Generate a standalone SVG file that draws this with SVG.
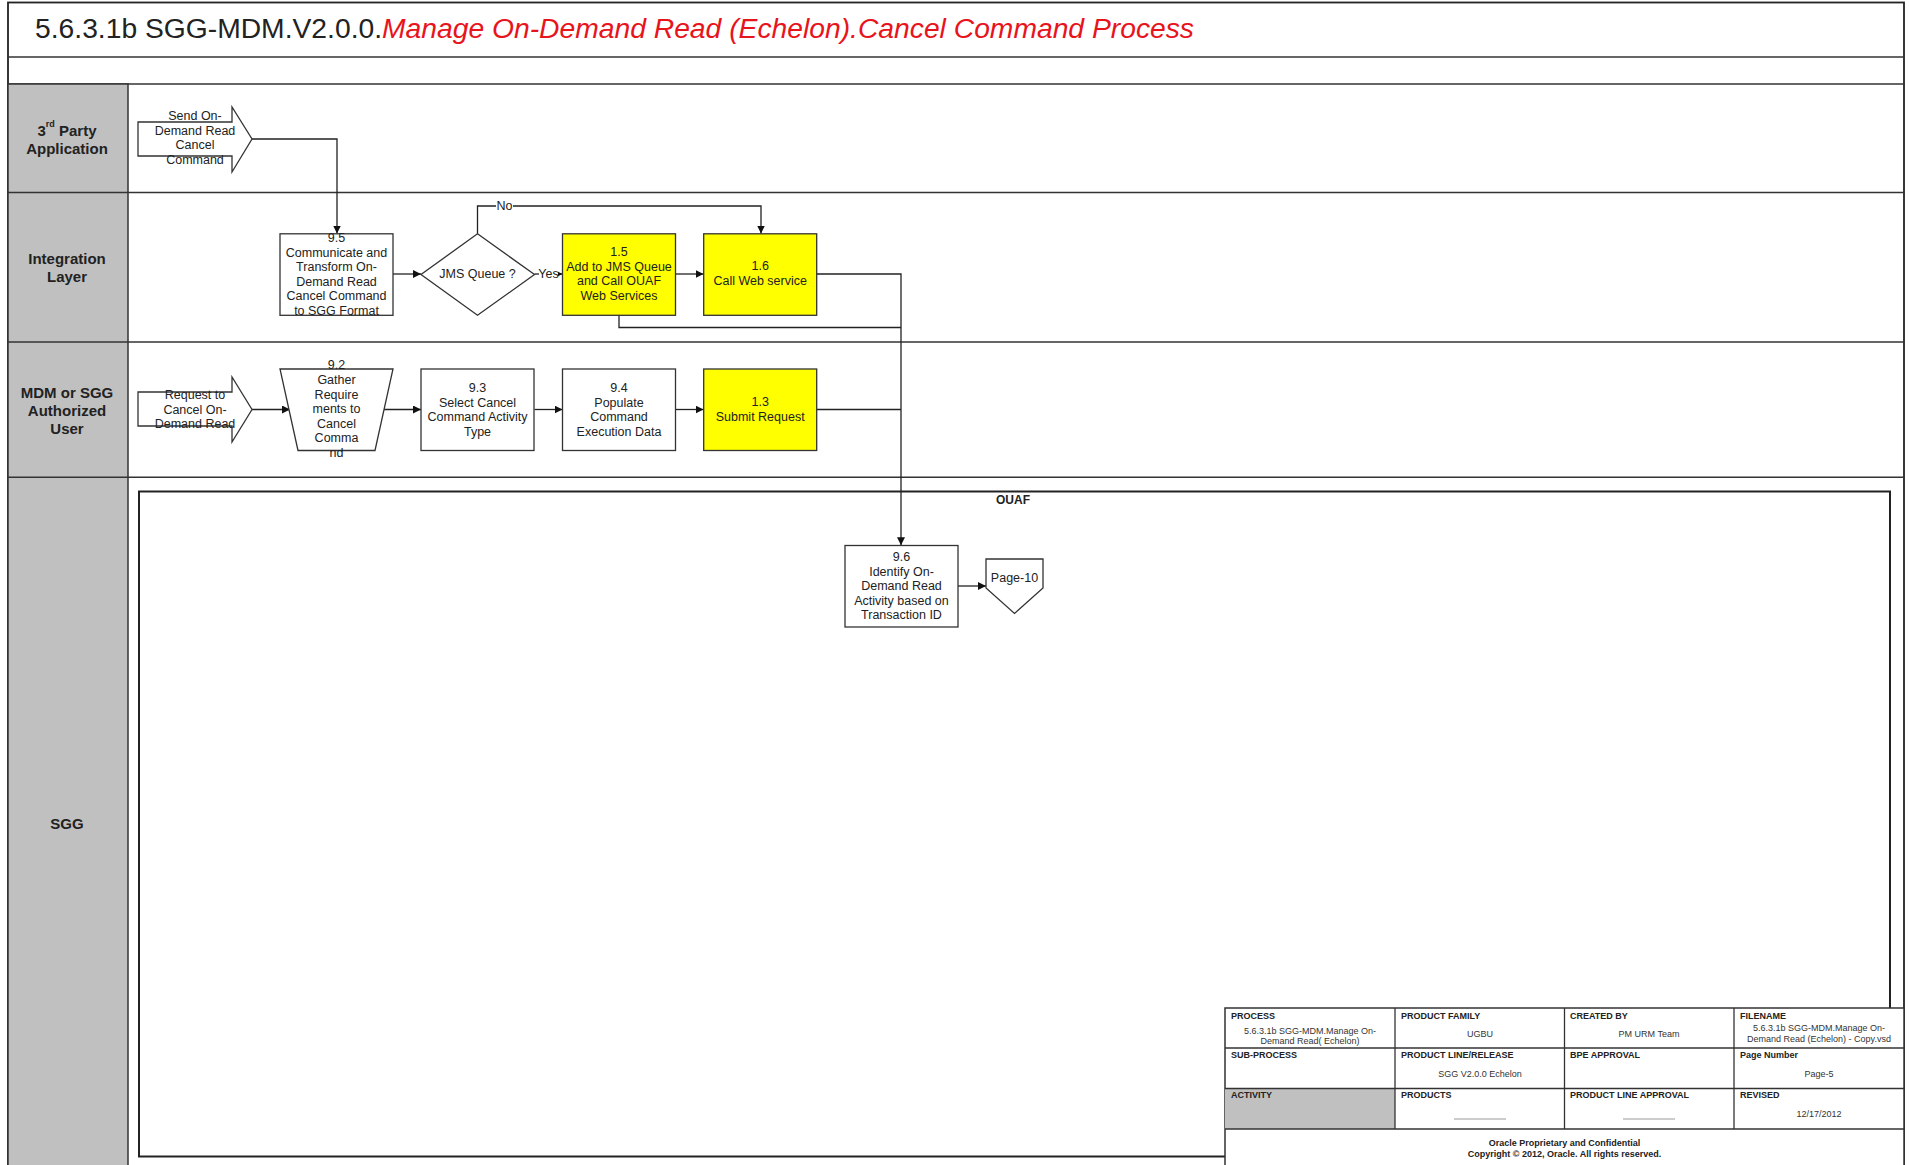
<svg xmlns="http://www.w3.org/2000/svg" width="1909" height="1165" viewBox="0 0 1909 1165">
<style>
.t{font-family:"Liberation Sans",Arial,sans-serif;font-size:12.5px;fill:#222;text-anchor:middle;dominant-baseline:central}
.lane{font-family:"Liberation Sans",Arial,sans-serif;font-size:15px;font-weight:bold;fill:#222;text-anchor:middle;dominant-baseline:central}
.box{fill:#fff;stroke:#333;stroke-width:1.3}
.yel{fill:#ffff00;stroke:#333;stroke-width:1.3}
.ln{fill:none;stroke:#222;stroke-width:1.3}
.arr{fill:none;stroke:#222;stroke-width:1.3;marker-end:url(#ah)}
.sep{stroke:#333;stroke-width:1.5}
.fh{font-family:"Liberation Sans",Arial,sans-serif;font-size:9px;font-weight:bold;fill:#222;dominant-baseline:central}
.fv{font-family:"Liberation Sans",Arial,sans-serif;font-size:9px;fill:#333;text-anchor:middle;dominant-baseline:central}
.fb{font-family:"Liberation Sans",Arial,sans-serif;font-size:9px;font-weight:bold;fill:#222;text-anchor:middle;dominant-baseline:central}
</style>
<defs>
<marker id="ah" viewBox="0 0 10 10" refX="10" refY="5" markerWidth="8" markerHeight="8" markerUnits="userSpaceOnUse" orient="auto">
<path d="M0,0 L10,5 L0,10 z" fill="#111"/>
</marker>
</defs>
<rect width="1909" height="1165" fill="#fff"/>
<g id="frame">
<rect x="8" y="2.5" width="1896" height="1170" fill="none" stroke="#222" stroke-width="1.8"/>
<line x1="8" y1="57" x2="1904" y2="57" class="sep"/>
<line x1="8" y1="84" x2="1904" y2="84" class="sep"/>
<rect x="8" y="84" width="120" height="1090" fill="#c0c0c0" stroke="#333" stroke-width="1.5"/>
<line x1="8" y1="192.5" x2="1904" y2="192.5" class="sep"/>
<line x1="8" y1="342" x2="1904" y2="342" class="sep"/>
<line x1="8" y1="477.3" x2="1904" y2="477.3" class="sep"/>
<text x="35" y="38" font-family="'Liberation Sans',Arial,sans-serif" font-size="27" fill="#222" textLength="1159" lengthAdjust="spacingAndGlyphs">5.6.3.1b SGG-MDM.V2.0.0.<tspan fill="#e8141c" font-style="italic">Manage On-Demand Read (Echelon).Cancel Command Process</tspan></text>
</g>
<g id="lanes">
<text class="lane" x="67" y="130">3<tspan font-size="9" dy="-6">rd</tspan><tspan dy="6"> Party</tspan></text>
<text class="lane" x="67" y="148">Application</text>
<text class="lane" x="67" y="258">Integration</text>
<text class="lane" x="67" y="276">Layer</text>
<text class="lane" x="67" y="392">MDM or SGG</text>
<text class="lane" x="67" y="410">Authorized</text>
<text class="lane" x="67" y="428">User</text>
<text class="lane" x="67" y="823">SGG</text>
</g>
<g id="ouaf">
<rect x="139" y="491.5" width="1751" height="665" fill="none" stroke="#222" stroke-width="2"/>
<text x="1013" y="500" font-family="'Liberation Sans',Arial,sans-serif" font-size="12" font-weight="bold" fill="#222" text-anchor="middle" dominant-baseline="central">OUAF</text>
</g>
<g id="connectors">
<polyline class="arr" points="252,139 337,139 337,233.5"/>
<line class="arr" x1="393" y1="274" x2="421" y2="274"/>
<polyline class="arr" points="477.5,233.8 477.5,206 761,206 761,233.5"/>
<line class="arr" x1="534.5" y1="274" x2="562.5" y2="274"/>
<line class="arr" x1="675.5" y1="274" x2="703.5" y2="274"/>
<polyline class="arr" points="817,274 901,274 901,545.3"/>
<polyline class="ln" points="619,315.3 619,327.5 901,327.5"/>
<line class="arr" x1="252" y1="409.5" x2="290" y2="409.5"/>
<line class="arr" x1="384" y1="409.5" x2="421" y2="409.5"/>
<line class="arr" x1="534.5" y1="409.5" x2="562.5" y2="409.5"/>
<line class="arr" x1="675.5" y1="409.5" x2="703.5" y2="409.5"/>
<line class="ln" x1="817" y1="409.5" x2="901" y2="409.5"/>
<line class="arr" x1="958" y1="586" x2="986" y2="586"/>
<rect x="496" y="200" width="17" height="12" fill="#fff"/>
<text class="t" x="504.5" y="206" font-size="11.5">No</text>
<rect x="539" y="268" width="19" height="12" fill="#fff"/>
<text class="t" x="548.5" y="274" font-size="11.5">Yes</text>
</g>
<g id="send">
<polygon class="box" points="138,122 232,122 232,107 252,139 232,172 232,156 138,156"/>
<text class="t" x="195" y="116">Send On-</text>
<text class="t" x="195" y="130.5">Demand Read</text>
<text class="t" x="195" y="145">Cancel</text>
<text class="t" x="195" y="159.5">Command</text>
</g>
<g id="n95">
<rect class="box" x="280" y="233.8" width="113" height="81.5"/>
<text class="t" x="336.5" y="238">9.5</text>
<text class="t" x="336.5" y="252.5">Communicate and</text>
<text class="t" x="336.5" y="267">Transform On-</text>
<text class="t" x="336.5" y="281.5">Demand Read</text>
<text class="t" x="336.5" y="296">Cancel Command</text>
<text class="t" x="336.5" y="310.5">to SGG Format</text>
</g>
<g id="jms">
<polygon class="box" points="477.5,233.8 534.5,274.5 477.5,315.3 421,274.5"/>
<text class="t" x="477.5" y="274">JMS Queue ?</text>
</g>
<g id="n15">
<rect class="yel" x="562.5" y="233.8" width="113" height="81.5"/>
<text class="t" x="619" y="252">1.5</text>
<text class="t" x="619" y="266.5">Add to JMS Queue</text>
<text class="t" x="619" y="281">and Call OUAF</text>
<text class="t" x="619" y="295.5">Web Services</text>
</g>
<g id="n16">
<rect class="yel" x="703.7" y="233.8" width="113" height="81.5"/>
<text class="t" x="760.2" y="266">1.6</text>
<text class="t" x="760.2" y="280.5">Call Web service</text>
</g>
<g id="request">
<polygon class="box" points="138,392 232,392 232,377 252,409.5 232,442 232,426 138,426"/>
<text class="t" x="195" y="395">Request to</text>
<text class="t" x="195" y="409.5">Cancel On-</text>
<text class="t" x="195" y="424">Demand Read</text>
</g>
<g id="n92">
<polygon class="box" points="280,369 393,369 375,450.5 298,450.5"/>
<text class="t" x="336.5" y="365">9.2</text>
<text class="t" x="336.5" y="380">Gather</text>
<text class="t" x="336.5" y="394.5">Require</text>
<text class="t" x="336.5" y="409">ments to</text>
<text class="t" x="336.5" y="423.5">Cancel</text>
<text class="t" x="336.5" y="438">Comma</text>
<text class="t" x="336.5" y="452.5">nd</text>
</g>
<g id="n93">
<rect class="box" x="421" y="369" width="113" height="81.5"/>
<text class="t" x="477.5" y="388">9.3</text>
<text class="t" x="477.5" y="402.5">Select Cancel</text>
<text class="t" x="477.5" y="417">Command Activity</text>
<text class="t" x="477.5" y="431.5">Type</text>
</g>
<g id="n94">
<rect class="box" x="562.5" y="369" width="113" height="81.5"/>
<text class="t" x="619" y="388">9.4</text>
<text class="t" x="619" y="402.5">Populate</text>
<text class="t" x="619" y="417">Command</text>
<text class="t" x="619" y="431.5">Execution Data</text>
</g>
<g id="n13">
<rect class="yel" x="703.7" y="369" width="113" height="81.5"/>
<text class="t" x="760.2" y="402">1.3</text>
<text class="t" x="760.2" y="416.5">Submit Request</text>
</g>
<g id="n96">
<rect class="box" x="845" y="545.5" width="113" height="81.5"/>
<text class="t" x="901.5" y="557">9.6</text>
<text class="t" x="901.5" y="571.5">Identify On-</text>
<text class="t" x="901.5" y="586">Demand Read</text>
<text class="t" x="901.5" y="600.5">Activity based on</text>
<text class="t" x="901.5" y="615">Transaction ID</text>
</g>
<g id="page10">
<polygon class="box" points="986,559 1043,559 1043,588 1014.5,613.5 986,588"/>
<text class="t" x="1014.5" y="578">Page-10</text>
</g>
<g id="footer">
<rect x="1225" y="1008" width="679" height="160" fill="#fff" stroke="#333" stroke-width="1.5"/>
<rect x="1225" y="1088.5" width="170" height="40.5" fill="#c0c0c0"/>
<g stroke="#333" stroke-width="1.3">
<line x1="1225" y1="1048" x2="1904" y2="1048"/>
<line x1="1225" y1="1088.5" x2="1904" y2="1088.5"/>
<line x1="1225" y1="1129" x2="1904" y2="1129"/>
<line x1="1395" y1="1008" x2="1395" y2="1129"/>
<line x1="1564.5" y1="1008" x2="1564.5" y2="1129"/>
<line x1="1734" y1="1008" x2="1734" y2="1129"/>
</g>
<text class="fh" x="1231" y="1016">PROCESS</text>
<text class="fh" x="1401" y="1016">PRODUCT FAMILY</text>
<text class="fh" x="1570" y="1016">CREATED BY</text>
<text class="fh" x="1740" y="1016">FILENAME</text>
<text class="fv" x="1310" y="1031">5.6.3.1b SGG-MDM.Manage On-</text>
<text class="fv" x="1310" y="1041">Demand Read( Echelon)</text>
<text class="fv" x="1480" y="1034">UGBU</text>
<text class="fv" x="1649" y="1034">PM URM Team</text>
<text class="fv" x="1819" y="1028">5.6.3.1b SGG-MDM.Manage On-</text>
<text class="fv" x="1819" y="1039">Demand Read (Echelon) - Copy.vsd</text>
<text class="fh" x="1231" y="1055">SUB-PROCESS</text>
<text class="fh" x="1401" y="1055">PRODUCT LINE/RELEASE</text>
<text class="fh" x="1570" y="1055">BPE APPROVAL</text>
<text class="fh" x="1740" y="1055">Page Number</text>
<text class="fv" x="1480" y="1074">SGG V2.0.0 Echelon</text>
<text class="fv" x="1819" y="1074">Page-5</text>
<text class="fh" x="1231" y="1095">ACTIVITY</text>
<text class="fh" x="1401" y="1095">PRODUCTS</text>
<text class="fh" x="1570" y="1095">PRODUCT LINE APPROVAL</text>
<text class="fh" x="1740" y="1095">REVISED</text>
<line x1="1454" y1="1119" x2="1506" y2="1119" stroke="#999" stroke-width="1"/>
<line x1="1623" y1="1119" x2="1675" y2="1119" stroke="#999" stroke-width="1"/>
<text class="fv" x="1819" y="1114">12/17/2012</text>
<text class="fb" x="1564.5" y="1143">Oracle Proprietary and Confidential</text>
<text class="fb" x="1564.5" y="1154">Copyright © 2012, Oracle. All rights reserved.</text>
</g>
</svg>
